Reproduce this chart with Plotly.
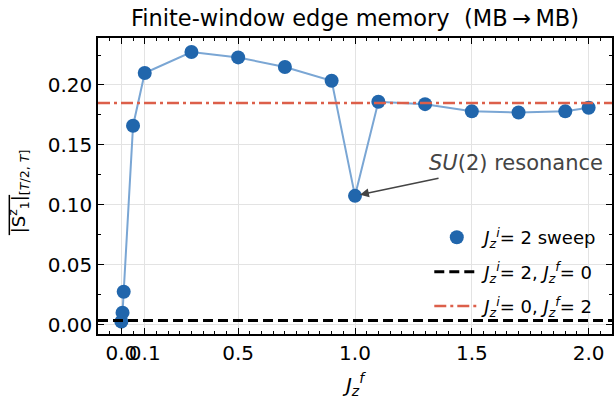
import plotly.graph_objects as go

# Final coupling J_z^f for the sweep and the time-averaged edge magnetisation
jz_final = [0.0, 0.005, 0.01, 0.05, 0.1, 0.3, 0.5, 0.7, 0.9, 1.0, 1.1, 1.3, 1.5, 1.7, 1.9, 2.0]
edge_memory = [0.0025, 0.010, 0.0275, 0.166, 0.210, 0.2275, 0.223, 0.215, 0.2035,
               0.1075, 0.186, 0.184, 0.178, 0.177, 0.178, 0.181]

# Reference quenches
ref_quench_to_zero = 0.0035   # J_z^i = 2, J_z^f = 0
ref_quench_from_zero = 0.185  # J_z^i = 0, J_z^f = 2

x_ticks = [0.0, 0.1, 0.5, 1.0, 1.5, 2.0]
x_tick_text = ["0.0", "0.1", "0.5", "1.0", "1.5", "2.0"]
y_ticks = [0.0, 0.05, 0.10, 0.15, 0.20]
y_tick_text = ["0.00", "0.05", "0.10", "0.15", "0.20"]

X_RANGE = [-0.1, 2.1]
Y_RANGE = [-0.0078, 0.2392]

FONT = "DejaVu Sans"
BLUE = "#2166ac"
LIGHT_BLUE = "#7aa6d4"
RED = "#dc5f4a"

fig = go.Figure()

# connecting line behind the markers
fig.add_trace(go.Scatter(
    x=jz_final, y=edge_memory, mode="lines",
    line=dict(color=LIGHT_BLUE, width=2), showlegend=False, hoverinfo="skip"))

fig.add_trace(go.Scatter(
    x=jz_final, y=edge_memory, mode="markers", legendgroup="sweep",
    marker=dict(color=BLUE, size=14, line=dict(width=0)),
    name="<i>J</i><sub><i>z</i></sub><sup><i>i</i></sup>= 2 sweep"))

fig.add_trace(go.Scatter(
    x=X_RANGE, y=[ref_quench_to_zero] * 2, mode="lines", legendgroup="to_zero",
    line=dict(color="black", width=3, dash="10px,5px"),
    name="<i>J</i><sub><i>z</i></sub><sup><i>i</i></sup>= 2, <i>J</i><sub><i>z</i></sub><sup><i>f</i></sup>= 0"))

fig.add_trace(go.Scatter(
    x=X_RANGE, y=[ref_quench_from_zero] * 2, mode="lines", legendgroup="from_zero",
    line=dict(color=RED, width=2.5, dash="12px,4px,3px,4px"),
    name="<i>J</i><sub><i>z</i></sub><sup><i>i</i></sup>= 0, <i>J</i><sub><i>z</i></sub><sup><i>f</i></sup>= 2"))

axis_common = dict(
    showline=True, linecolor="black", linewidth=1.5, mirror="allticks",
    ticks="inside", ticklen=6, tickwidth=1.2, tickcolor="black",
    showgrid=True, gridcolor="#e3e3e3", gridwidth=1, zeroline=False,
    tickfont=dict(family=FONT, size=20, color="black"), tickangle=0,
)

fig.update_xaxes(
    range=X_RANGE, tickvals=x_ticks, ticktext=x_tick_text,
    minor=dict(ticks="inside", ticklen=3, tickcolor="black", dtick=0.05, tick0=0, showgrid=False),
    title=dict(text="<i>J</i><sub><i>z</i></sub><sup><i>f</i></sup>",
               font=dict(family=FONT, size=20, color="black"), standoff=18),
    **axis_common)

fig.update_yaxes(
    range=Y_RANGE, tickvals=y_ticks, ticktext=y_tick_text,
    minor=dict(ticks="inside", ticklen=3, tickcolor="black", dtick=0.025, tick0=0, showgrid=False),
    **axis_common)

# y-axis label with an overline on the averaged quantity
fig.add_annotation(
    xref="paper", yref="paper", x=-0.155, y=0.483, xanchor="center", yanchor="middle",
    textangle=-90, showarrow=False,
    text="|S<sup>z</sup><sub>1</sub>|<sub>[<i>T</i>/2, <i>T</i>]</sub>",
    font=dict(family=FONT, size=18, color="black"))
fig.add_shape(type="line", xref="paper", yref="paper",
              x0=-0.1725, x1=-0.1725, y0=0.334, y1=0.470,
              line=dict(color="black", width=1.5))

# opaque panel under the legend (hides the grid, not the data)
fig.add_shape(type="rect", xref="paper", yref="paper", layer="between",
              x0=0.614, x1=0.986, y0=0.054, y1=0.385,
              fillcolor="white", line=dict(width=0))

# resonance callout
fig.add_annotation(
    x=1.0, y=edge_memory[9], xref="x", yref="y",
    ax=1.364, ay=0.1225, axref="x", ayref="y",
    text="", showarrow=True, arrowhead=2, arrowsize=1.2, arrowwidth=1.5,
    arrowcolor="#444444", standoff=5)
fig.add_annotation(
    x=1.69, y=0.135, xref="x", yref="y", showarrow=False,
    text="<i>SU</i>(2) resonance",
    font=dict(family=FONT, size=21, color="#444444"))

fig.update_layout(
    width=615, height=399,
    margin=dict(l=98, r=1, t=38, b=65),
    paper_bgcolor="white", plot_bgcolor="white",
    title=dict(text="Finite-window edge memory  (MB\u2009\u2192\u2009MB)",
               x=0.5, xref="paper", xanchor="center", y=0.955, yanchor="middle",
               font=dict(family=FONT, size=22.5, color="black")),
    legend=dict(x=0.985, y=0.03, xanchor="right", yanchor="bottom",
                bgcolor="rgba(0,0,0,0)", borderwidth=0,
                font=dict(family=FONT, size=18, color="black"),
                itemwidth=45, tracegroupgap=8),
    showlegend=True,
)

fig.write_html("out.html")
